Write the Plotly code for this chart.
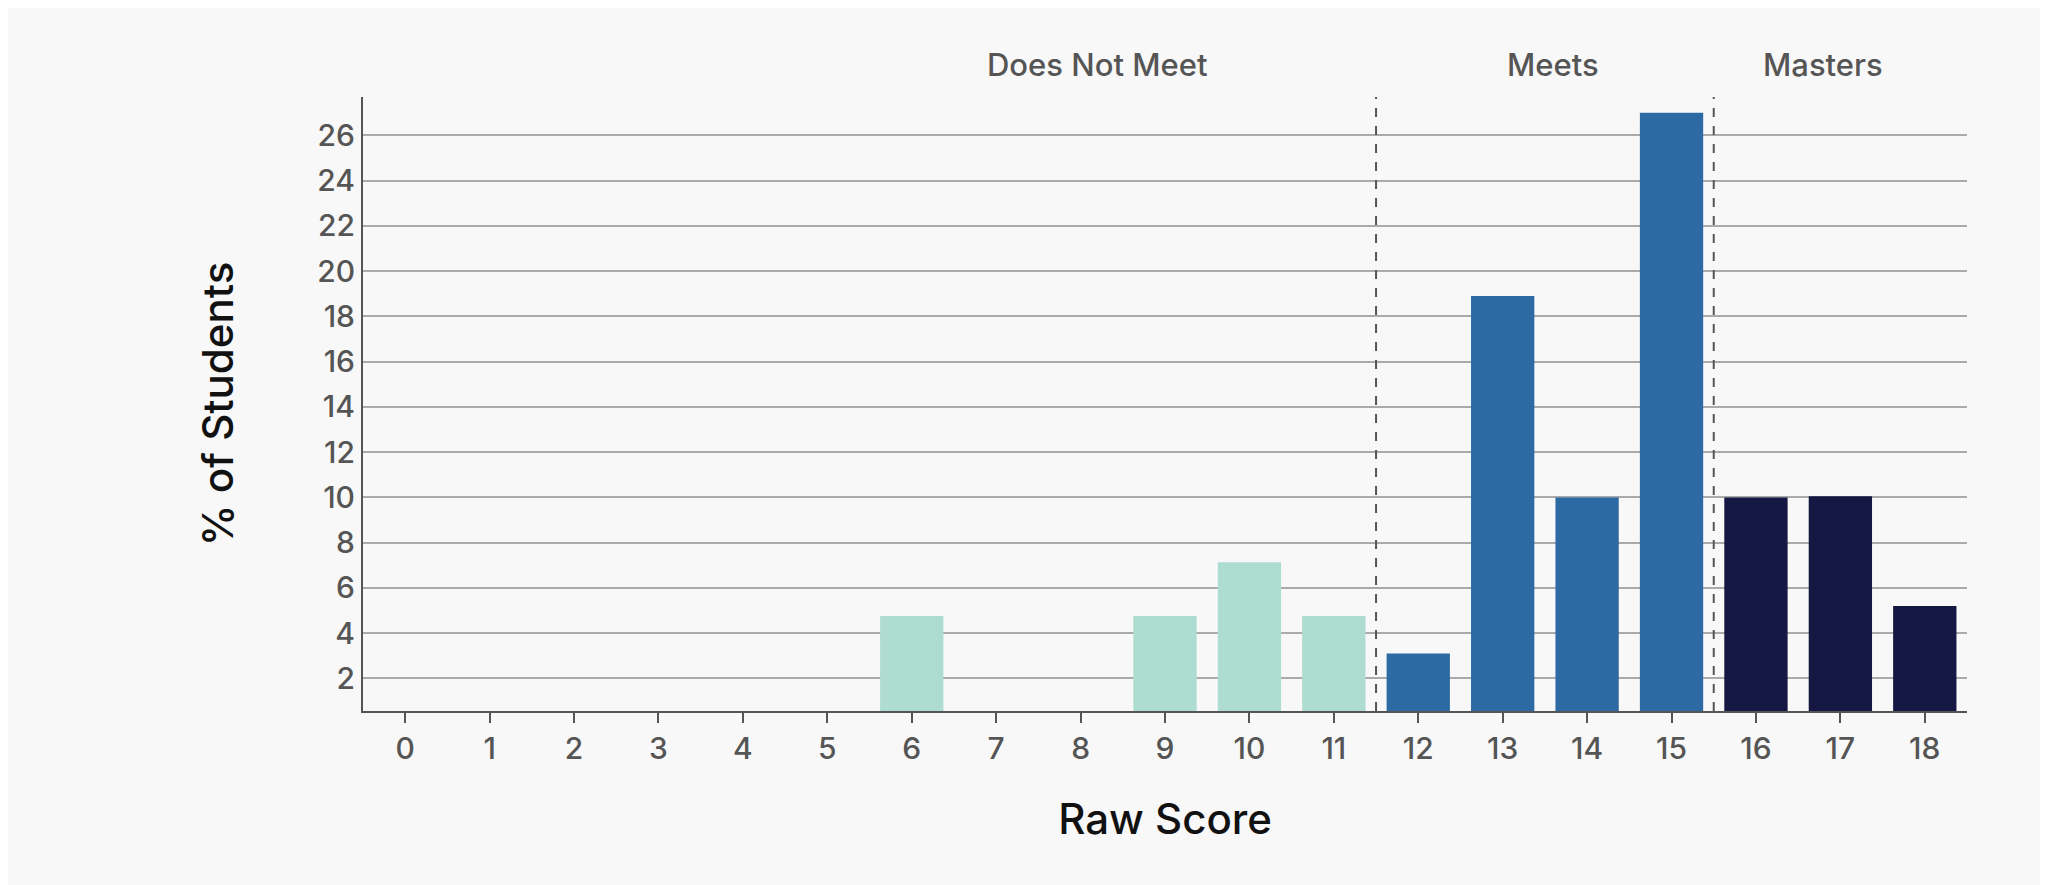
import plotly.graph_objects as go

scores = [str(i) for i in range(19)]
pct = [0, 0, 0, 0, 0, 0, 4.76, 0, 0, 4.76, 7.14, 4.76, 3.1, 18.9, 10.0, 27.0, 10.0, 10.05, 5.2]
groups = ["Does Not Meet"] * 12 + ["Meets"] * 4 + ["Masters"] * 3
group_colors = {"Does Not Meet": "#aedcd0", "Meets": "#2d6aa3", "Masters": "#141842"}
group_label_pos = {"Does Not Meet": 8.2, "Meets": 13.6, "Masters": 16.8}
cutoffs = [11.5, 15.5]
yticks = list(range(2, 27, 2))

fig = go.Figure(go.Bar(x=scores, y=pct, marker_color=[group_colors[g] for g in groups],
                       marker_line_width=0, base=0))
for c in cutoffs:
    fig.add_shape(type="line", xref="x", yref="paper", x0=c, x1=c, y0=0, y1=1,
                  line=dict(color="#555", width=2, dash="dash"))
for g, xp in group_label_pos.items():
    fig.add_annotation(x=xp, xref="x", y=1.02, yref="paper", yanchor="bottom", text=g,
                       showarrow=False, font=dict(size=31, color="#555", family="Inter", weight=500))
fig.update_layout(
    width=2048, height=885, paper_bgcolor="#f8f8f8", plot_bgcolor="#f8f8f8",
    margin=dict(l=355, r=89, t=89, b=182), bargap=0.25, showlegend=False,
    font=dict(family="Inter", color="#555"),
    xaxis=dict(type="category", showline=True, linecolor="#555", linewidth=2,
               ticks="outside", tickcolor="#555", ticklen=10, tickwidth=2,
               tickfont=dict(size=30, color="#555", weight=500),
               title=dict(text="Raw Score", font=dict(size=42, color="#111", weight=500), standoff=40)),
    yaxis=dict(range=[0.56, 27.7], tickvals=yticks, showgrid=True, gridcolor="#aaa", gridwidth=2,
               showline=True, linecolor="#555", linewidth=2, zeroline=False,
               tickfont=dict(size=30, color="#555", weight=500),
               title=dict(text="% of Students", font=dict(size=42, color="#111", weight=500), standoff=70)),
)
fig.write_html("out.html")
